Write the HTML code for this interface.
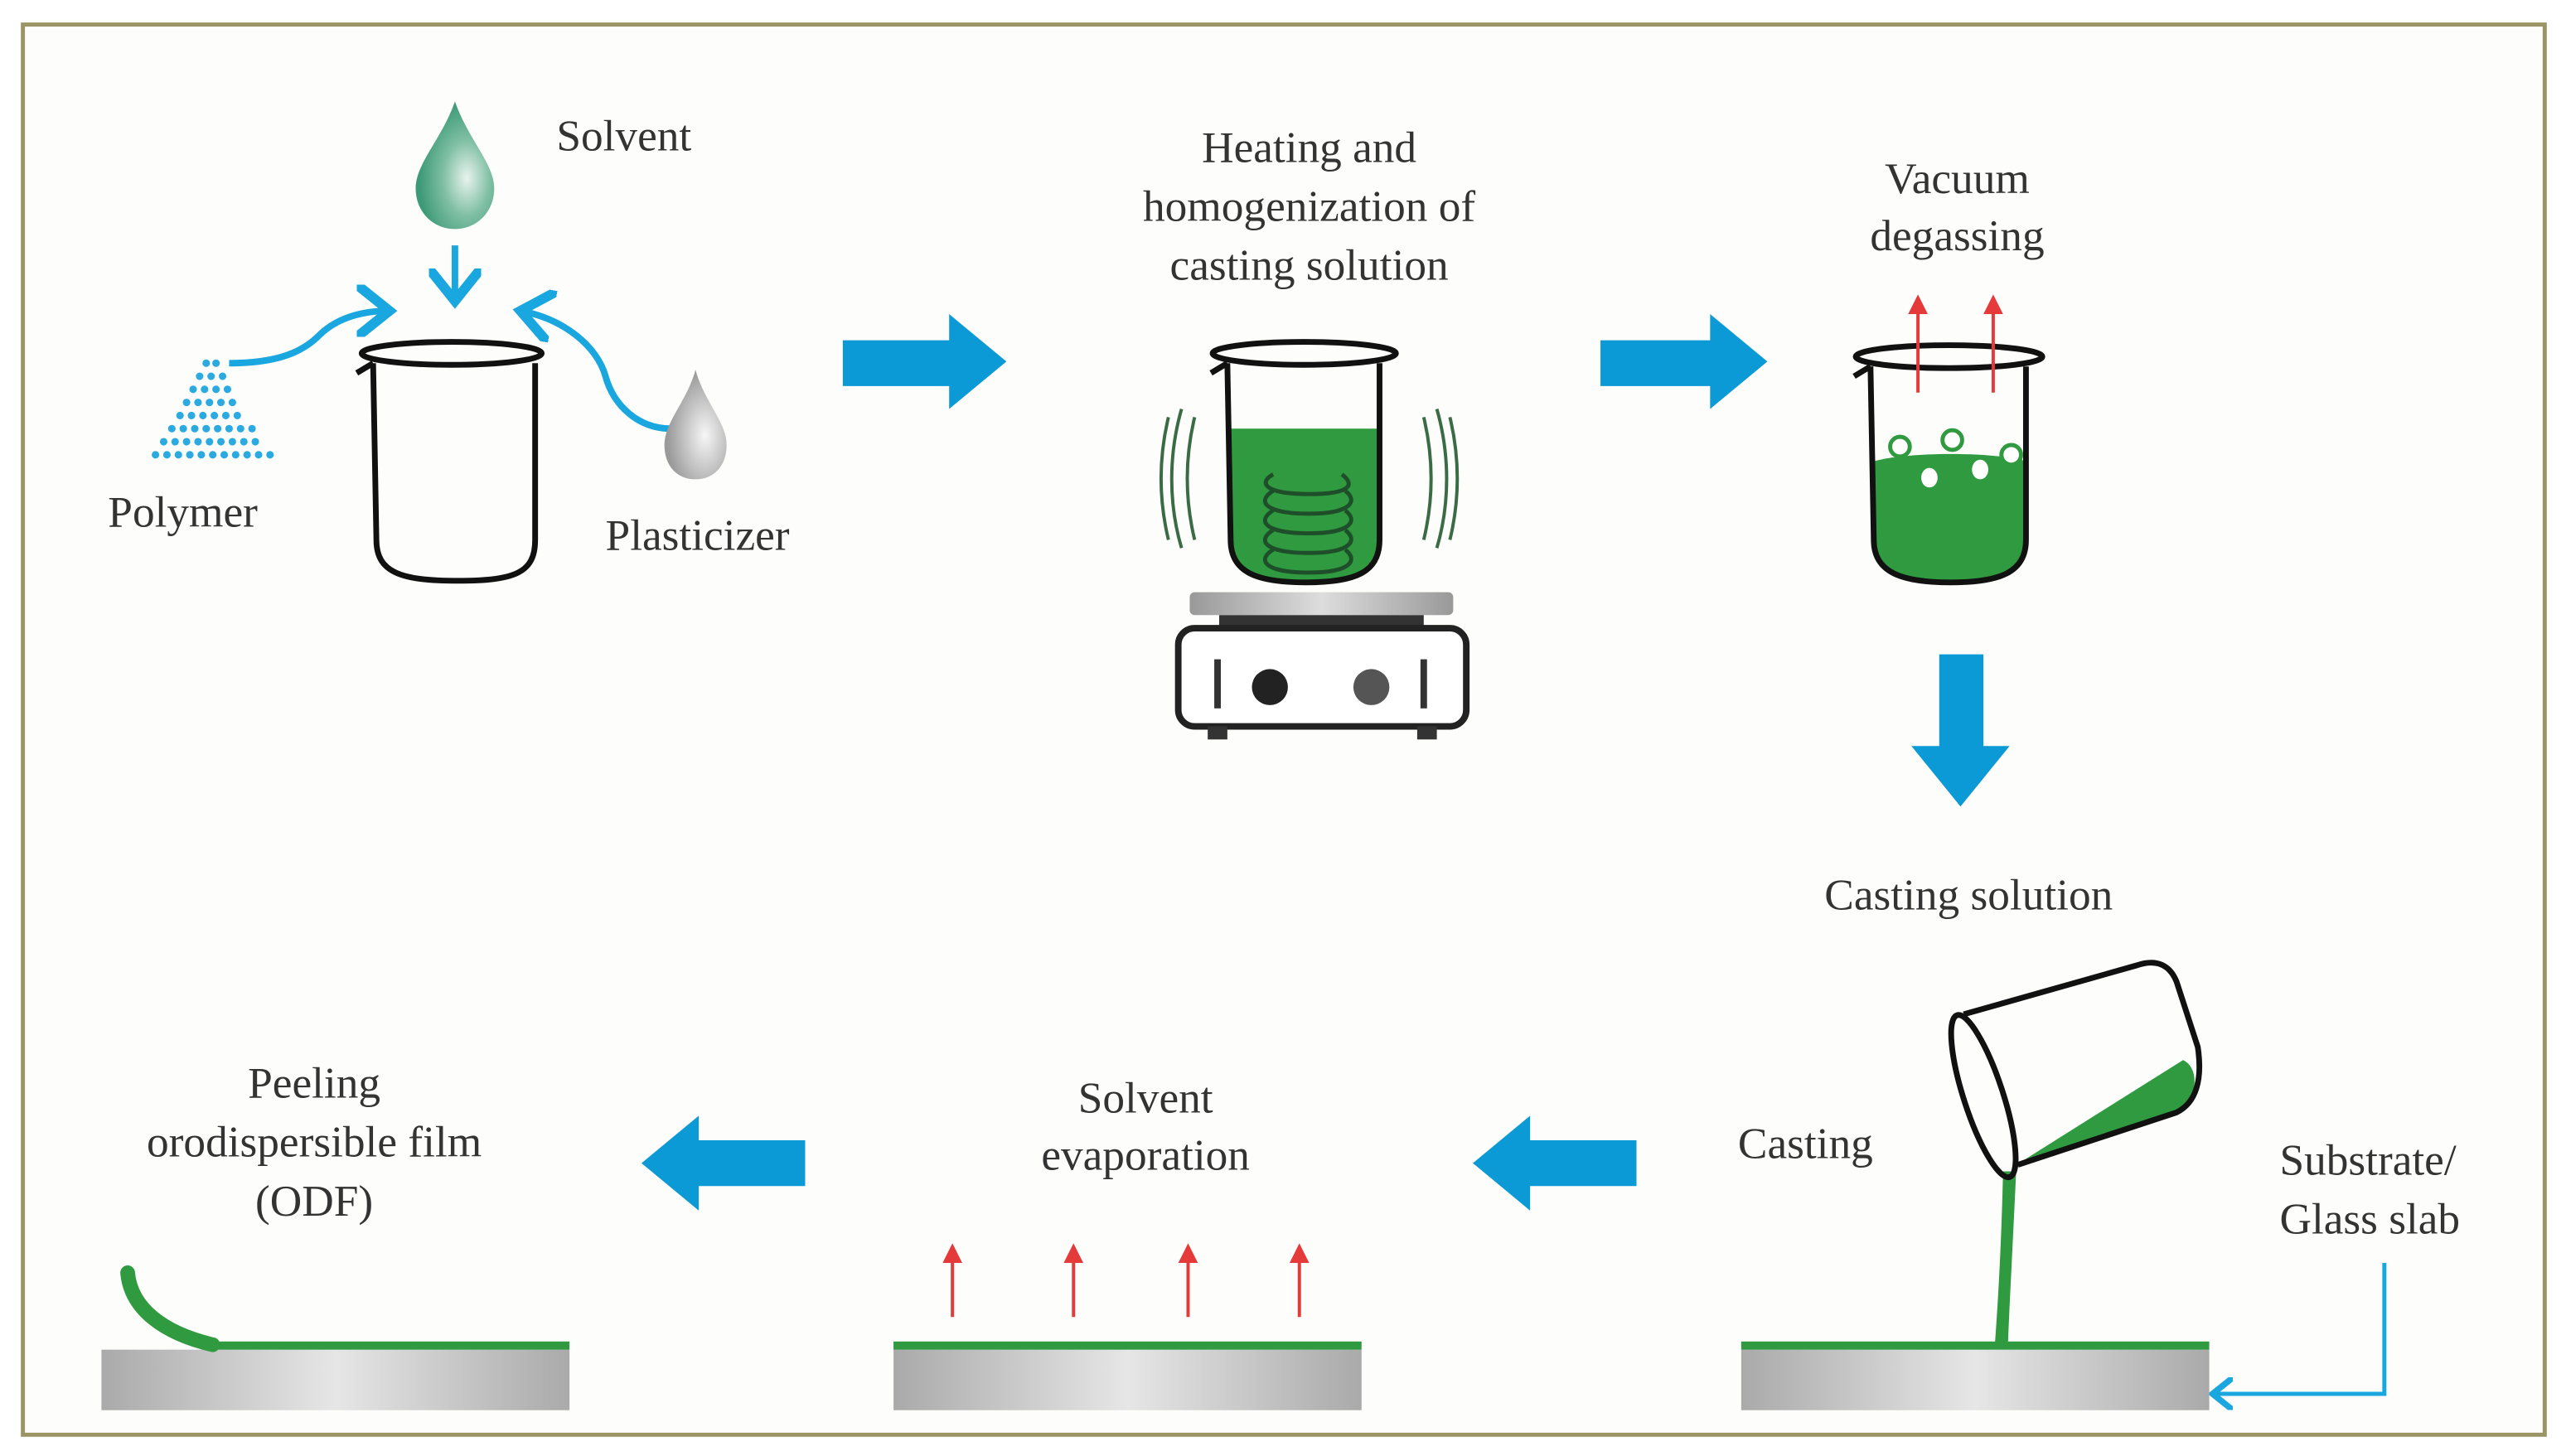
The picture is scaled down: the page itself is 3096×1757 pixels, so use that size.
<!DOCTYPE html>
<html><head><meta charset="utf-8"><style>
html,body{margin:0;padding:0;background:#fff;}
svg{display:block;}
text{font-family:"Liberation Serif",serif;fill:#333;font-size:27px;}
</style></head><body>
<svg width="3096" height="1757" viewBox="0 0 1568 890" preserveAspectRatio="none" xmlns="http://www.w3.org/2000/svg">
<defs>
<radialGradient id="gd" cx="0.65" cy="0.6" r="0.6"><stop offset="0" stop-color="#e8f3ee"/><stop offset="0.5" stop-color="#7fbfa3"/><stop offset="1" stop-color="#3d9a78"/></radialGradient>
<radialGradient id="gp" cx="0.65" cy="0.6" r="0.6"><stop offset="0" stop-color="#f6f6f6"/><stop offset="1" stop-color="#9a9a9a"/></radialGradient>
<linearGradient id="slab" x1="0" x2="1"><stop offset="0" stop-color="#aaa"/><stop offset="0.5" stop-color="#e6e6e6"/><stop offset="1" stop-color="#aaa"/></linearGradient>
<linearGradient id="plate" x1="0" x2="1"><stop offset="0" stop-color="#999"/><stop offset="0.5" stop-color="#ddd"/><stop offset="1" stop-color="#999"/></linearGradient>
<marker id="ab" markerWidth="8" markerHeight="8" refX="5" refY="4" orient="auto" markerUnits="strokeWidth"><path d="M0,0 L5,4 L0,8" fill="none" stroke="#1aa7e0" stroke-width="1.5"/></marker>
<marker id="ar" markerWidth="6" markerHeight="6" refX="5" refY="3" orient="auto"><path d="M0,0 L6,3 L0,6z" fill="#e53a3a"/></marker>
</defs>
<rect x="0" y="0" width="1568" height="890" fill="#fff"/>
<rect x="14" y="15" width="1541" height="862" fill="#fdfdfb" stroke="#9b9464" stroke-width="2.5"/>

<!-- Step 1 -->
<path d="M278,62 C270,85 254,100 254,115 C254,130 265,140 278,140 C291,140 302,130 302,115 C302,100 286,85 278,62Z" fill="url(#gd)"/>
<text x="340" y="92">Solvent</text>
<g stroke="#1aa7e0" stroke-width="4" fill="none">
<line x1="278" y1="150" x2="278" y2="184" marker-end="url(#ab)"/>
<path d="M140,222 C170,222 185,215 195,205 C205,195 220,190 238,190" marker-end="url(#ab)"/>
<path d="M410,262 C390,262 375,248 370,230 C365,212 345,195 318,190" marker-end="url(#ab)"/>
</g>
<g fill="#2aaae0">
<circle cx="126" cy="222" r="2.3"/><circle cx="132" cy="222" r="2.3"/>
<circle cx="122" cy="230" r="2.3"/><circle cx="129" cy="230" r="2.3"/><circle cx="136" cy="230" r="2.3"/>
<circle cx="118" cy="238" r="2.3"/><circle cx="125" cy="238" r="2.3"/><circle cx="132" cy="238" r="2.3"/><circle cx="139" cy="238" r="2.3"/>
<circle cx="114" cy="246" r="2.3"/><circle cx="121" cy="246" r="2.3"/><circle cx="128" cy="246" r="2.3"/><circle cx="135" cy="246" r="2.3"/><circle cx="142" cy="246" r="2.3"/>
<circle cx="110" cy="254" r="2.3"/><circle cx="117" cy="254" r="2.3"/><circle cx="124" cy="254" r="2.3"/><circle cx="131" cy="254" r="2.3"/><circle cx="138" cy="254" r="2.3"/><circle cx="145" cy="254" r="2.3"/>
<circle cx="105" cy="262" r="2.3"/><circle cx="112" cy="262" r="2.3"/><circle cx="119" cy="262" r="2.3"/><circle cx="126" cy="262" r="2.3"/><circle cx="133" cy="262" r="2.3"/><circle cx="140" cy="262" r="2.3"/><circle cx="147" cy="262" r="2.3"/><circle cx="154" cy="262" r="2.3"/>
<circle cx="100" cy="270" r="2.3"/><circle cx="107" cy="270" r="2.3"/><circle cx="114" cy="270" r="2.3"/><circle cx="121" cy="270" r="2.3"/><circle cx="128" cy="270" r="2.3"/><circle cx="135" cy="270" r="2.3"/><circle cx="142" cy="270" r="2.3"/><circle cx="149" cy="270" r="2.3"/><circle cx="156" cy="270" r="2.3"/>
<circle cx="95" cy="278" r="2.3"/><circle cx="102" cy="278" r="2.3"/><circle cx="109" cy="278" r="2.3"/><circle cx="116" cy="278" r="2.3"/><circle cx="123" cy="278" r="2.3"/><circle cx="130" cy="278" r="2.3"/><circle cx="137" cy="278" r="2.3"/><circle cx="144" cy="278" r="2.3"/><circle cx="151" cy="278" r="2.3"/><circle cx="158" cy="278" r="2.3"/><circle cx="165" cy="278" r="2.3"/>
</g>
<text x="66" y="322">Polymer</text>
<path d="M425,226 C420,245 406,258 406,272 C406,285 414,293 425,293 C436,293 444,285 444,272 C444,258 430,245 425,226Z" fill="url(#gp)"/>
<text x="370" y="336">Plasticizer</text>
<g fill="none" stroke="#111" stroke-width="3.5">
<path d="M228,222 L230,330 C230,350 245,355 280,355 C315,355 327,350 327,330 L327,222"/>
<ellipse cx="276" cy="216" rx="55" ry="7"/>
<path d="M228,222 L218,228"/>
</g>

<path d="M515,208 L580,208 L580,192 L615,221 L580,250 L580,236 L515,236Z" fill="#0b9ad6"/>
<path d="M978,208 L1045,208 L1045,192 L1080,221 L1045,250 L1045,236 L978,236Z" fill="#0b9ad6"/>

<!-- Step 2 -->
<text x="800" y="99" text-anchor="middle">Heating and</text>
<text x="800" y="135" text-anchor="middle">homogenization of</text>
<text x="800" y="171" text-anchor="middle">casting solution</text>
<path d="M752,262 L752,330 C752,350 768,356 798,356 C828,356 843,350 843,330 L843,262Z" fill="#2f9a3f"/>
<g fill="none" stroke="#1f4f2a" stroke-width="2.5">
<path d="M778,290 C770,294 770,302 800,302 C826,302 828,296 820,290 M778,300 C768,306 772,314 800,314 C826,314 830,306 822,300 M778,312 C768,318 772,326 800,326 C826,326 830,318 822,312 M778,324 C768,330 772,338 800,338 C826,338 830,330 822,324 M778,336 C768,342 772,350 800,350 C826,350 830,342 822,336"/>
</g>
<g fill="none" stroke="#111" stroke-width="3.5">
<path d="M750,222 L752,330 C752,350 768,356 798,356 C828,356 843,350 843,330 L843,222"/>
<ellipse cx="797" cy="216" rx="56" ry="7"/>
<path d="M750,222 L740,228"/>
</g>
<g fill="none" stroke="#3a6b45" stroke-width="2">
<path d="M714,255 C708,280 708,305 714,330"/><path d="M722,250 C714,278 714,308 722,335"/><path d="M730,255 C724,280 724,305 730,330"/>
<path d="M870,255 C876,280 876,305 870,330"/><path d="M878,250 C886,278 886,308 878,335"/><path d="M886,255 C892,280 892,305 886,330"/>
</g>
<rect x="727" y="362" width="161" height="14" rx="3" fill="url(#plate)"/>
<rect x="745" y="376" width="125" height="8" fill="#333"/>
<rect x="720" y="384" width="176" height="60" rx="10" fill="#fff" stroke="#222" stroke-width="4"/>
<rect x="738" y="444" width="12" height="8" fill="#333"/><rect x="866" y="444" width="12" height="8" fill="#333"/>
<circle cx="776" cy="420" r="11" fill="#222"/><circle cx="838" cy="420" r="11" fill="#555"/>
<rect x="742" y="403" width="4" height="30" fill="#333"/><rect x="868" y="403" width="4" height="30" fill="#333"/>

<!-- Step 3 -->
<text x="1196" y="118" text-anchor="middle">Vacuum</text>
<text x="1196" y="153" text-anchor="middle">degassing</text>
<path d="M1145,282 L1145,330 C1145,350 1162,356 1192,356 C1222,356 1238,350 1238,330 L1238,282 C1220,276 1165,276 1145,282Z" fill="#2f9a3f"/>
<g fill="#fff" stroke="#2f9a3f" stroke-width="2.5">
<ellipse cx="1161" cy="273" rx="6" ry="6"/><ellipse cx="1193" cy="269" rx="6" ry="6"/><ellipse cx="1229" cy="278" rx="6" ry="6"/>
<ellipse cx="1179" cy="292" rx="5" ry="6" stroke="none"/><ellipse cx="1210" cy="287" rx="5" ry="6" stroke="none"/>
</g>
<g fill="none" stroke="#111" stroke-width="3.5">
<path d="M1143,224 L1145,330 C1145,350 1162,356 1192,356 C1222,356 1238,350 1238,330 L1238,224"/>
<ellipse cx="1191" cy="218" rx="57" ry="7"/>
<path d="M1143,224 L1133,230"/>
</g>
<g stroke="#e53a3a" stroke-width="2"><line x1="1172" y1="240" x2="1172" y2="182" marker-end="url(#ar)"/><line x1="1218" y1="240" x2="1218" y2="182" marker-end="url(#ar)"/></g>
<path d="M1185,400 L1212,400 L1212,456 L1228,456 L1198,493 L1168,456 L1185,456Z" fill="#0b9ad6"/>
<text x="1203" y="556" text-anchor="middle">Casting solution</text>

<!-- Casting -->
<text x="1062" y="708">Casting</text>
<text x="1393" y="718">Substrate/</text>
<text x="1393" y="754">Glass slab</text>
<path d="M1457,772 L1457,852 L1352,852" fill="none" stroke="#1aa7e0" stroke-width="2.5" marker-end="url(#ab)"/>
<rect x="1064" y="825" width="286" height="37" fill="url(#slab)"/>
<rect x="1064" y="820" width="286" height="5" fill="#2f9a3f"/>
<path d="M1224,716 C1223,760 1221,795 1219,822 L1227,822 C1228,795 1230,760 1232,716Z" fill="#2f9a3f"/>
<path d="M1229,714 L1334,648 C1343,652 1344,668 1333,680 Z" fill="#2f9a3f"/>
<path d="M1200,620 L1306,590 C1318,586 1326,590 1330,600 L1343,640 C1346,660 1342,674 1330,680 L1233,712" fill="none" stroke="#111" stroke-width="3.5" stroke-linejoin="round"/>
<ellipse cx="1212" cy="670" rx="12" ry="52" transform="rotate(-18 1212 670)" fill="none" stroke="#111" stroke-width="3.5"/>

<path d="M1000,697 L935,697 L935,682 L900,711 L935,740 L935,725 L1000,725Z" fill="#0b9ad6"/>
<path d="M492,697 L427,697 L427,682 L392,711 L427,740 L427,725 L492,725Z" fill="#0b9ad6"/>

<text x="700" y="680" text-anchor="middle">Solvent</text>
<text x="700" y="715" text-anchor="middle">evaporation</text>
<g stroke="#e53a3a" stroke-width="2"><line x1="582" y1="805" x2="582" y2="762" marker-end="url(#ar)"/><line x1="656" y1="805" x2="656" y2="762" marker-end="url(#ar)"/><line x1="726" y1="805" x2="726" y2="762" marker-end="url(#ar)"/><line x1="794" y1="805" x2="794" y2="762" marker-end="url(#ar)"/></g>
<rect x="546" y="825" width="286" height="37" fill="url(#slab)"/>
<rect x="546" y="820" width="286" height="5" fill="#2f9a3f"/>

<text x="192" y="671" text-anchor="middle">Peeling</text>
<text x="192" y="707" text-anchor="middle">orodispersible film</text>
<text x="192" y="743" text-anchor="middle">(ODF)</text>
<rect x="62" y="825" width="286" height="37" fill="url(#slab)"/>
<rect x="130" y="820" width="218" height="5" fill="#2f9a3f"/>
<path d="M78,778 C80,800 100,815 130,822" fill="none" stroke="#2f9a3f" stroke-width="9" stroke-linecap="round"/>
</svg>
</body></html>
